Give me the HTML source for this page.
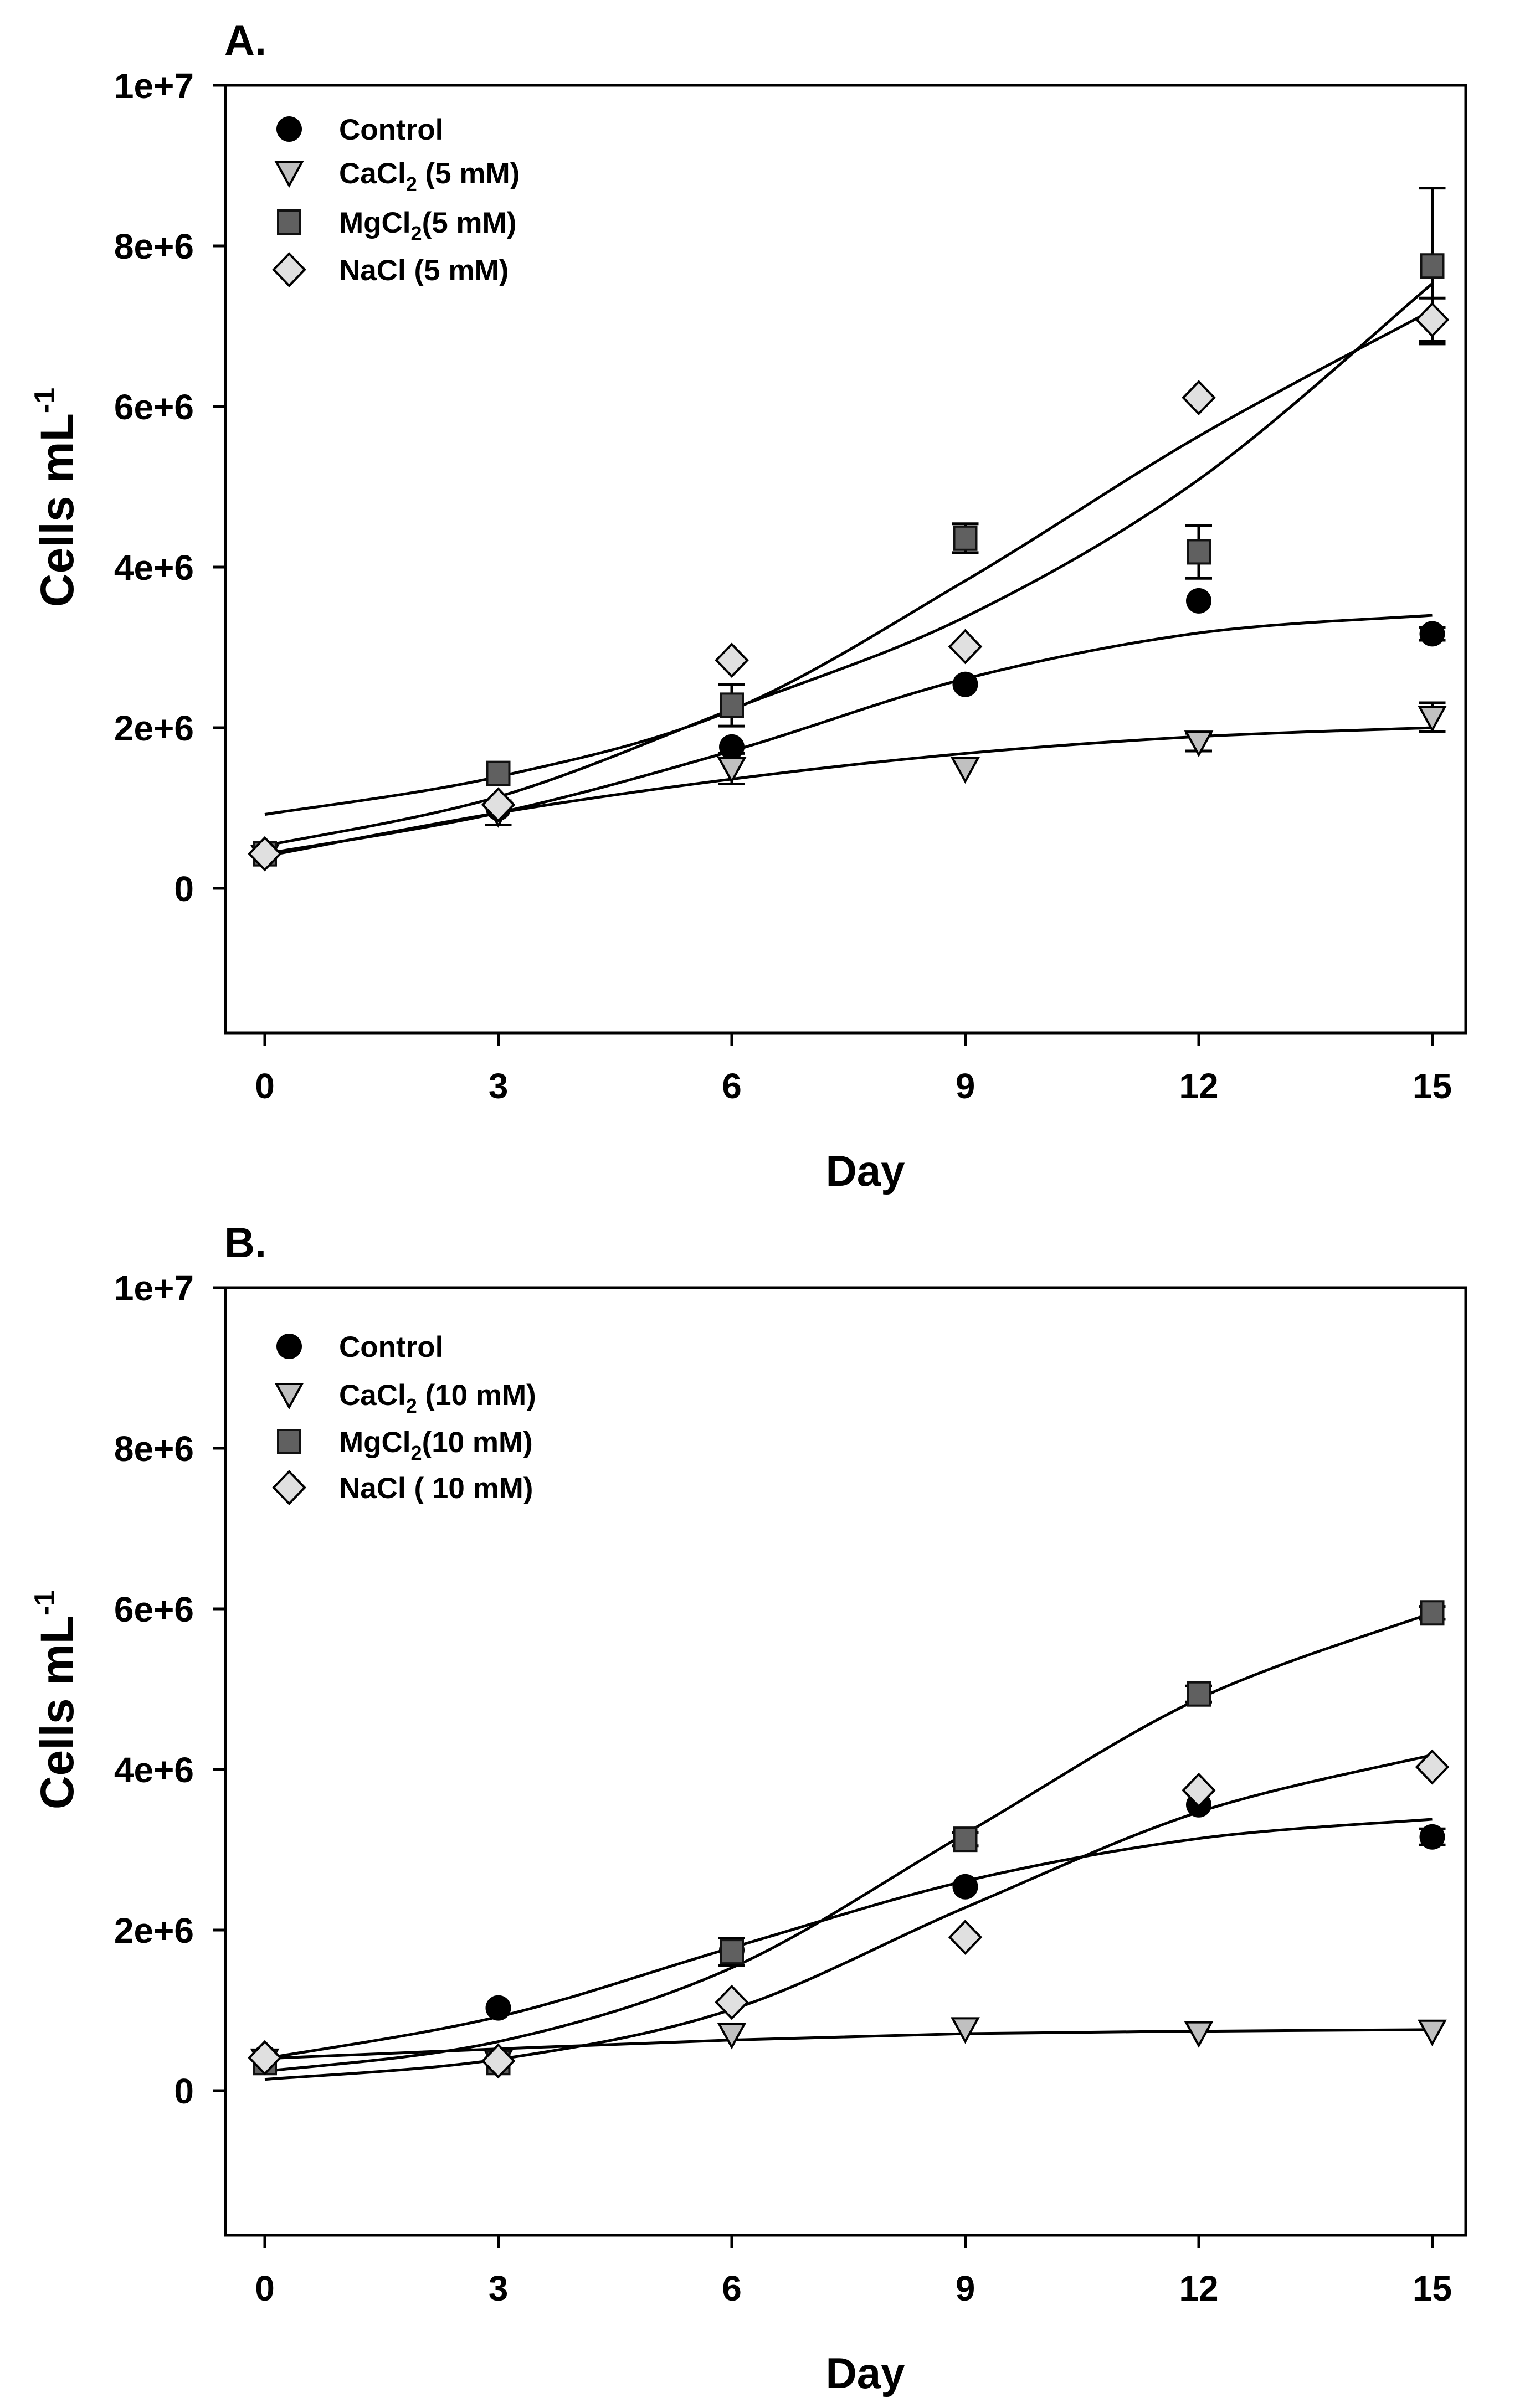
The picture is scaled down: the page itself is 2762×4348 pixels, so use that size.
<!DOCTYPE html>
<html><head><meta charset="utf-8"><title>Cell growth</title>
<style>
html,body{margin:0;padding:0;background:#fff;}
svg{display:block;font-family:"Liberation Sans",Arial,sans-serif;font-weight:bold;}
</style></head>
<body>
<svg id="chart" xmlns="http://www.w3.org/2000/svg" width="2762" height="4348" viewBox="0 0 2762 4348">
<rect width="2762" height="4348" fill="#fff"/>
</svg>
<script>
// ---- data ----
const days = [0, 3, 6, 9, 12, 15];
const xTicks = [0, 3, 6, 9, 12, 15];
const yTicks = [0, 2e6, 4e6, 6e6, 8e6, 1e7];
const yTickLabels = ["0", "2e+6", "4e+6", "6e+6", "8e+6", "1e+7"];
const seriesNames = ["control", "cacl2", "mgcl2", "nacl"];

// Panel A (5 mM)
const aControl = [0.43e6, 1.0e6, 1.76e6, 2.54e6, 3.58e6, 3.17e6];
const aCaCl2  = [0.40e6, 0.94e6, 1.49e6, 1.49e6, 1.82e6, 2.13e6];
const aMgCl2  = [0.43e6, 1.43e6, 2.28e6, 4.36e6, 4.19e6, 7.75e6];
const aNaCl   = [0.43e6, 1.04e6, 2.84e6, 3.01e6, 6.11e6, 7.08e6];
const aControlErr = [0.03e6, 0.05e6, 0.06e6, 0.05e6, 0.06e6, 0.08e6];
const aCaCl2Err  = [0.03e6, 0.15e6, 0.19e6, 0.05e6, 0.11e6, 0.18e6];
const aMgCl2Err  = [0.03e6, 0.05e6, 0.26e6, 0.18e6, 0.33e6, 0.97e6];
const aNaClErr   = [0.03e6, 0.05e6, 0.05e6, 0.05e6, 0.05e6, 0.27e6];
const aControlFit = [0.43e6, 0.94e6, 1.71e6, 2.61e6, 3.18e6, 3.40e6];
const aCaCl2Fit  = [0.40e6, 0.94e6, 1.36e6, 1.68e6, 1.89e6, 2.00e6];
const aMgCl2Fit  = [0.53e6, 1.14e6, 2.23e6, 3.38e6, 5.09e6, 7.53e6];
const aNaClFit   = [0.92e6, 1.39e6, 2.22e6, 3.83e6, 5.63e6, 7.20e6];

// Panel B (10 mM)
const bControl = [0.41e6, 1.03e6, 1.75e6, 2.54e6, 3.56e6, 3.16e6];
const bCaCl2  = [0.38e6, 0.36e6, 0.70e6, 0.77e6, 0.72e6, 0.74e6];
const bMgCl2  = [0.35e6, 0.35e6, 1.73e6, 3.13e6, 4.94e6, 5.95e6];
const bNaCl   = [0.41e6, 0.37e6, 1.10e6, 1.91e6, 3.74e6, 4.03e6];
const bControlErr = [0.03e6, 0.05e6, 0.05e6, 0.05e6, 0.06e6, 0.1e6];
const bCaCl2Err  = [0.03e6, 0.03e6, 0.04e6, 0.05e6, 0.05e6, 0.05e6];
const bMgCl2Err  = [0.03e6, 0.05e6, 0.17e6, 0.08e6, 0.1e6, 0.08e6];
const bNaClErr   = [0.03e6, 0.03e6, 0.03e6, 0.03e6, 0.05e6, 0.05e6];
const bControlFit = [0.40e6, 0.92e6, 1.78e6, 2.61e6, 3.14e6, 3.38e6];
const bCaCl2Fit  = [0.40e6, 0.52e6, 0.63e6, 0.71e6, 0.74e6, 0.76e6];
const bMgCl2Fit  = [0.24e6, 0.61e6, 1.53e6, 3.20e6, 4.88e6, 5.95e6];
const bNaClFit   = [0.14e6, 0.39e6, 1.01e6, 2.28e6, 3.47e6, 4.18e6];

const legendA = ["Control", "CaCl|2| (5 mM)", "MgCl|2|(5 mM)", "NaCl (5 mM)"];
const legendB = ["Control", "CaCl|2| (10 mM)", "MgCl|2|(10 mM)", "NaCl ( 10 mM)"];

// ---- drawing ----
const NS = "http://www.w3.org/2000/svg";
const svg = document.getElementById("chart");
function mk(tag, attrs, parent) {
  const e = document.createElementNS(NS, tag);
  for (const k in attrs) e.setAttribute(k, attrs[k]);
  (parent || svg).appendChild(e);
  return e;
}
const fills = {control: "#000000", cacl2: "#c0c0c0", mgcl2: "#606060", nacl: "#e0e0e0"};

function marker(g, type, cx, cy) {
  let el;
  if (type === "control") el = mk("ellipse", {cx: cx, cy: cy, rx: 23, ry: 23, fill: "#000"}, g);
  else if (type === "cacl2") el = mk("polygon", {points: `${cx-23},${cy-19} ${cx+23},${cy-19} ${cx},${cy+23}`, fill: fills.cacl2, stroke: "#000", "stroke-width": 4}, g);
  else if (type === "mgcl2") el = mk("rect", {x: cx-20, y: cy-21, width: 40, height: 42, fill: fills.mgcl2, stroke: "#111", "stroke-width": 4}, g);
  else el = mk("polygon", {points: `${cx},${cy-29} ${cx+28},${cy} ${cx},${cy+29} ${cx-28},${cy}`, fill: fills.nacl, stroke: "#000", "stroke-width": 4}, g);
  return el;
}

function curvePath(xs, ys) {
  let d = `M${xs[0]},${ys[0]}`;
  for (let i = 0; i < xs.length - 1; i++) {
    const x0 = xs[Math.max(i-1,0)], y0 = ys[Math.max(i-1,0)];
    const x1 = xs[i], y1 = ys[i], x2 = xs[i+1], y2 = ys[i+1];
    const x3 = xs[Math.min(i+2,xs.length-1)], y3 = ys[Math.min(i+2,xs.length-1)];
    const c1x = x1 + (x2 - x0)/6, c1y = y1 + (y2 - y0)/6;
    const c2x = x2 - (x3 - x1)/6, c2y = y2 - (y3 - y1)/6;
    d += ` C${c1x},${c1y} ${c2x},${c2y} ${x2},${y2}`;
  }
  return d;
}

function panel(cfg) {
  const top = cfg.top, zeroY = top + 1450, bottom = top + 1711;
  const left = 407, right = 2646;
  const X = d => 478 + d * 140.5;
  const Y = v => zeroY - v * 145e-6;
  const g = mk("g", {});
  
  

  const fr = mk("rect", {x: left, y: top, width: right-left, height: bottom-top, fill: "none", stroke: "#000", "stroke-width": 5}, g);
  
  

  yTicks.forEach((v, i) => {
    const t = mk("line", {x1: left-23, x2: left, y1: Y(v), y2: Y(v), stroke: "#000", "stroke-width": 5}, g);
    
    
    const tx = mk("text", {x: 350, y: Y(v)+23, "text-anchor": "end", "font-size": 64}, g);
    tx.textContent = yTickLabels[i];
    
    
  });
  xTicks.forEach(d => {
    const t = mk("line", {x1: X(d), x2: X(d), y1: bottom, y2: bottom+23, stroke: "#000", "stroke-width": 5}, g);
    
    
    const tx = mk("text", {x: X(d), y: bottom+118, "text-anchor": "middle", "font-size": 64}, g);
    tx.textContent = String(d);
    
    
  });

  const pl = mk("text", {x: 405, y: top-55, "font-size": 76}, g);
  pl.textContent = cfg.letter;
  
  
  const xt = mk("text", {x: 1562, y: bottom+276, "text-anchor": "middle", "font-size": 78}, g);
  xt.textContent = "Day";
  
  
  const cy = top + 744;
  const yt = mk("text", {x: 0, y: 0, "text-anchor": "middle", "font-size": 84, transform: `translate(132,${cy}) rotate(-90)`}, g);
  
  
  yt.appendChild(document.createTextNode("Cells mL"));
  const sup = mk("tspan", {dy: -34, "font-size": 52}, yt);
  sup.textContent = "-1";

  cfg.fits.forEach((f, i) => {
    const p = mk("path", {d: curvePath(days.map(X), f.map(Y)), fill: "none", stroke: "#000", "stroke-width": 5}, g);
    
    
  });

  cfg.series.forEach((s, i) => {
    const sg = mk("g", {}, g);
    
    
    s.forEach((v, j) => {
      const e = cfg.errs[i][j];
      if (e > 0.06e6) {
        const x = X(days[j]);
        const eb = mk("path", {d: `M${x},${Y(v+e)} V${Y(v-e)} M${x-24},${Y(v+e)} H${x+24} M${x-24},${Y(v-e)} H${x+24}`, stroke: "#000", "stroke-width": 5, fill: "none"}, sg);
        
        
      }
    });
    s.forEach((v, j) => {
      const m = marker(sg, seriesNames[i], X(days[j]), Y(v));
      
      
    });
  });

  cfg.legend.forEach((lab, i) => {
    const ly = cfg.legendY[i];
    const lg = mk("g", {}, g);
    
    
    marker(lg, seriesNames[i], 522, ly);
    const t = mk("text", {x: 612, y: ly + 19, "font-size": 53}, lg);
    const parts = lab.split("|");
    parts.forEach((p, k) => {
      const ts = mk("tspan", k === 1 ? {"font-size": 36, dy: 14} : (k === 2 ? {dy: -14} : {}), t);
      ts.textContent = p;
    });
  });
}

panel({name: "panel-a", letter: "A.", top: 154,
  series: [aControl, aCaCl2, aMgCl2, aNaCl],
  errs: [aControlErr, aCaCl2Err, aMgCl2Err, aNaClErr],
  fits: [aControlFit, aCaCl2Fit, aMgCl2Fit, aNaClFit],
  legend: legendA, legendY: [233, 312, 401, 487]});
panel({name: "panel-b", letter: "B.", top: 2325,
  series: [bControl, bCaCl2, bMgCl2, bNaCl],
  errs: [bControlErr, bCaCl2Err, bMgCl2Err, bNaClErr],
  fits: [bControlFit, bCaCl2Fit, bMgCl2Fit, bNaClFit],
  legend: legendB, legendY: [2431, 2518, 2603, 2686]});
</script>
</body></html>
